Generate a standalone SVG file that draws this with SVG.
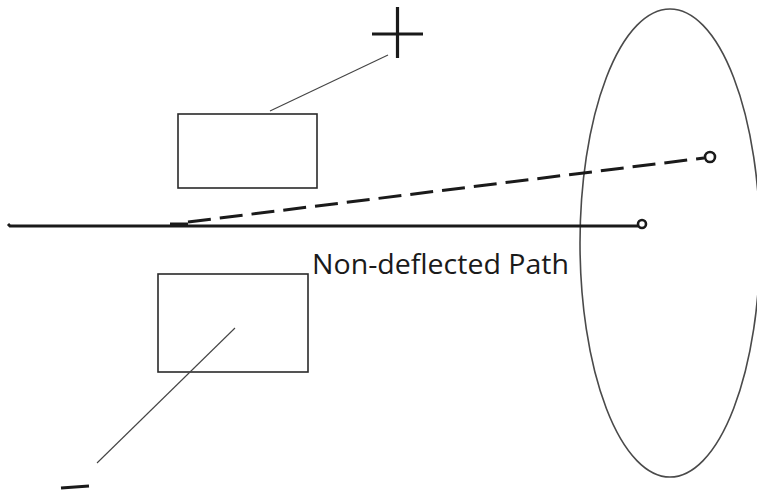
<svg xmlns="http://www.w3.org/2000/svg" width="757" height="493" viewBox="0 0 757 493">
<style>
.box{fill:none;stroke:#2a2a2a;stroke-width:1.6}
.thin{fill:none;stroke:#444;stroke-width:1.1}
.beam{fill:none;stroke:#1a1a1a;stroke-width:3}
.sign{fill:none;stroke:#1a1a1a;stroke-width:3.2}
.dot{fill:#fff;stroke:#1a1a1a;stroke-width:2.6}
.lbl{font-family:"Open Sans","Liberation Sans",sans-serif;font-size:28px;fill:#1a1a1a}
</style>
<rect width="757" height="493" fill="#fff"/>
<g id="screen"><ellipse cx="670" cy="243" rx="90" ry="234" fill="none" stroke="#4a4a4a" stroke-width="1.6"/></g>
<g id="plate-top"><rect class="box" x="178" y="114" width="139" height="74"/></g>
<g id="plate-bottom"><rect class="box" x="158" y="274" width="150" height="98"/></g>
<g id="plus"><path class="sign" d="M397.5 7V58M372 34H423"/></g>
<g id="minus"><path class="sign" d="M61 488L89 486"/></g>
<g id="connectors">
<line class="thin" x1="270" y1="111" x2="388" y2="55"/>
<line class="thin" x1="235" y1="328" x2="97" y2="463"/>
<path class="beam" d="M8 224L10 226H638"/>
<circle class="dot" cx="642" cy="224" r="4"/>
<path class="beam" d="M170 224H188"/>
<line class="beam" x1="188" y1="222" x2="704" y2="158" stroke-dasharray="23 9"/>
<circle class="dot" cx="710" cy="157" r="5"/>
</g>
<text class="lbl" x="312" y="274" textLength="257" lengthAdjust="spacingAndGlyphs">Non-deflected Path</text>
</svg>
